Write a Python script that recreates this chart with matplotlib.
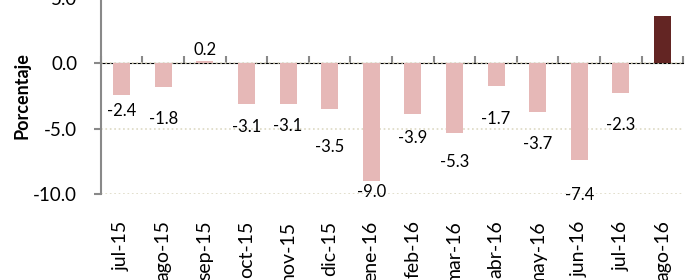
import numpy as np
import matplotlib
matplotlib.use("Agg")
import matplotlib.pyplot as plt

plt.rcParams['font.family'] = ['Lato', 'DejaVu Sans']

# datos
meses = ['jul-15', 'ago-15', 'sep-15', 'oct-15', 'nov-15', 'dic-15', 'ene-16',
         'feb-16', 'mar-16', 'abr-16', 'may-16', 'jun-16', 'jul-16', 'ago-16']
valores = [-2.4, -1.8, 0.2, -3.1, -3.1, -3.5, -9.0,
           -3.9, -5.3, -1.7, -3.7, -7.4, -2.3, 3.6]

# desplazamiento de las etiquetas (puntos), como en el original
offsets_etq = [-12, -23, 8, -17, -16, -27, -8, -17, -21, -24, -23, -25, -23, 20]

gris = '#898989'
x = np.arange(len(meses))
colores = ['#E6B8B7'] * (len(meses) - 1) + ['#632523']

fig = plt.figure(figsize=(6.86, 2.80), dpi=100)
ax = fig.add_axes([0.147, 0.307, 0.849, 0.700])

ax.bar(x, valores, width=0.41, color=colores, zorder=2)

for xi, v, off in zip(x, valores, offsets_etq):
    ax.annotate(f'{v:.1f}', (xi, v), xytext=(0, off), textcoords='offset points',
                ha='center', va='center', fontsize=12, color='black')

ax.set_xlim(-0.5, len(meses) - 0.5)
ax.set_ylim(-10, 5)
ax.set_yticks([-10, -5, 0, 5])
ax.set_yticklabels(['-10.0', '-5.0', '0.0', '5.0'])
ax.yaxis.grid(True, linestyle=':', color='#DDD9C3', linewidth=1.2, zorder=0)
ax.set_axisbelow(True)

ax.set_xticks(x)
ax.set_xticklabels(meses, rotation=90, fontsize=14)
ax.tick_params(axis='x', length=0, pad=19)
ax.tick_params(axis='y', length=5, width=1.5, color=gris, labelsize=13.5, pad=12)

for s in ['top', 'right', 'bottom']:
    ax.spines[s].set_visible(False)
ax.spines['left'].set_color(gris)
ax.spines['left'].set_linewidth(1.5)

# eje en cero con marcas entre categorias
eje0 = ax.secondary_xaxis(2 / 3)
eje0.set_xticks(np.arange(-0.5, len(meses), 1.0))
eje0.set_xticklabels([])
eje0.tick_params(length=5, width=1.5, color=gris)
eje0.spines['bottom'].set_color(gris)
eje0.spines['bottom'].set_linewidth(1.8)

ax.set_ylabel('Porcentaje', fontsize=13, fontweight='bold', labelpad=2)

fig.savefig('out.png', dpi=100)
